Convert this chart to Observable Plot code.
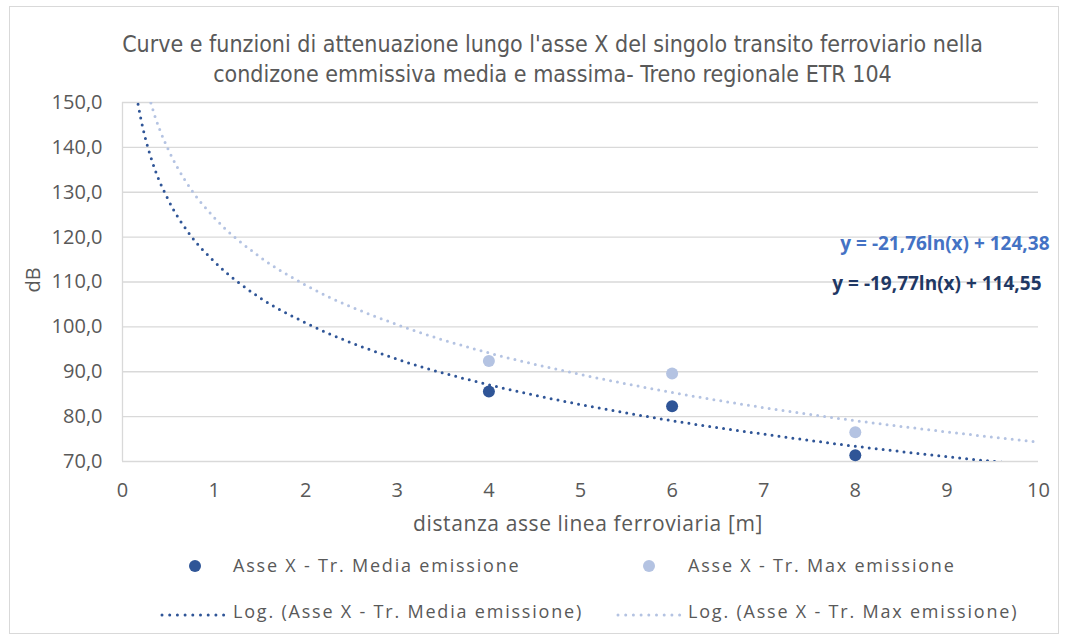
<!DOCTYPE html>
<html>
<head>
<meta charset="utf-8">
<script src="https://cdn.jsdelivr.net/npm/d3@7"></script>
<script src="https://cdn.jsdelivr.net/npm/@observablehq/plot@0.6"></script>
<style>
  html, body { margin: 0; padding: 0; background: #fff; }
  #wrap { position: relative; width: 1065px; height: 639px; overflow: hidden; font-family: "Open Sans", sans-serif; color: #595959; }
  #frame { position: absolute; left: 9px; top: 6px; width: 1050px; height: 628px; border: 1px solid #d9d9d9; box-sizing: border-box; }
  #title { position: absolute; left: 0; width: 1105px; top: 29px; text-align: center; font-family: "Liberation Sans Narrow", "DejaVu Sans Condensed", sans-serif; font-size: 23px; line-height: 30px; color: #595959; }
  #chart { position: absolute; left: 0; top: 0; }
  #ylab { position: absolute; left: 33px; top: 280px; transform: translate(-50%, -50%) rotate(-90deg); font-size: 20px; line-height: 20px; white-space: nowrap; }
  #xlab { position: absolute; left: 588px; top: 523px; transform: translate(-50%, -50%); font-size: 21px; letter-spacing: 0.6px; white-space: nowrap; }
  .leg { position: absolute; font-size: 18px; letter-spacing: 1.8px; white-space: nowrap; transform: translateY(-50%); }
  .sym { position: absolute; transform: translate(-50%, -50%); }
</style>
</head>
<body>
<div id="wrap">
  <div id="frame"></div>
  <div id="chart"></div>
  <div id="title"></div>
  <div id="ylab"></div>
  <div id="xlab"></div>
  <div id="legend"></div>
</div>
<script>
// ---- data ----
const titleLines = [
  "Curve e funzioni di attenuazione lungo l'asse X del singolo transito ferroviario nella",
  "condizone emmissiva media e massima- Treno regionale ETR 104"
];
const xLabel = "distanza asse linea ferroviaria [m]";
const yLabel = "dB";
const seriesNames = ["Asse X - Tr. Media emissione", "Asse X - Tr. Max emissione"];
const trendNames = ["Log. (Asse X - Tr. Media emissione)", "Log. (Asse X - Tr. Max emissione)"];
const equations = ["y = -21,76ln(x) + 124,38", "y = -19,77ln(x) + 114,55"];

const distances = [4, 6, 8];
const mediaValues = [85.6, 82.3, 71.4];
const maxValues = [92.4, 89.6, 76.5];

// trendline curves
const mediaTrendX = [0.17, 0.2, 0.25, 0.3, 0.35, 0.5, 0.75, 1, 1.5, 2, 3, 4, 5, 6, 7, 8, 9, 9.7];
const mediaTrendY = [149.6, 146.4, 142.0, 138.4, 135.3, 128.3, 120.2, 114.6, 106.5, 100.9, 92.8, 87.1, 82.7, 79.1, 76.1, 73.4, 71.1, 69.6];
const maxTrendX = [0.31, 0.35, 0.4, 0.5, 0.6, 0.75, 1, 1.5, 2, 3, 4, 5, 6, 7, 8, 9, 10];
const maxTrendY = [149.9, 147.2, 144.3, 139.5, 135.5, 130.6, 124.4, 115.6, 109.3, 100.5, 94.2, 89.4, 85.4, 82.0, 79.1, 76.6, 74.3];

const xTicks = [0, 1, 2, 3, 4, 5, 6, 7, 8, 9, 10];
const yTicks = [70, 80, 90, 100, 110, 120, 130, 140, 150];

const colors = { media: "#2f5597", max: "#b4c3e2", eqMax: "#4472c4", eqMedia: "#1f3864", grid: "#d9d9d9" };

// ---- build ----
const points = [
  ...distances.map((d, i) => ({ x: d, y: mediaValues[i], s: "media" })),
  ...distances.map((d, i) => ({ x: d, y: maxValues[i], s: "max" }))
];
const mediaTrend = mediaTrendX.map((x, i) => ({ x, y: mediaTrendY[i] }));
const maxTrend = maxTrendX.map((x, i) => ({ x, y: maxTrendY[i] }));
const fmt = d => d.toFixed(1).replace(".", ",");

const plot = Plot.plot({
  width: 1065,
  height: 639,
  marginLeft: 122,
  marginRight: 27,
  marginTop: 102,
  marginBottom: 178,
  style: { fontFamily: "Open Sans, sans-serif", fontSize: "18px", color: "#595959", background: "transparent", overflow: "visible" },
  x: { domain: [0, 10] },
  y: { domain: [70, 150] },
  marks: [
    Plot.gridY(yTicks, { stroke: colors.grid, strokeOpacity: 1, strokeWidth: 1.3 }),
    Plot.ruleX([0], { stroke: colors.grid, strokeWidth: 1.3 }),
    Plot.axisY(yTicks, { tickSize: 0, tickPadding: 20, tickFormat: fmt, label: null, fontSize: 20, fill: "#595959" }),
    Plot.axisX(xTicks, { tickSize: 0, tickPadding: 21, label: null, fontSize: 20, fill: "#595959" }),
    Plot.line(maxTrend, { x: "x", y: "y", curve: "monotone-x", stroke: colors.max, strokeWidth: 3, strokeDasharray: "0,7", strokeLinecap: "round", clip: true }),
    Plot.line(mediaTrend, { x: "x", y: "y", curve: "monotone-x", stroke: colors.media, strokeWidth: 3, strokeDasharray: "0,7", strokeLinecap: "round", clip: true }),
    Plot.dot(points, { x: "x", y: "y", r: 6, fill: d => d.s === "media" ? colors.media : colors.max, stroke: "none" }),
    Plot.text([equations[0]], { frameAnchor: "top-right", dx: 11, dy: 134, text: d => d, fill: colors.eqMax, fontWeight: "bold", fontSize: 19, textAnchor: "end" }),
    Plot.text([equations[1]], { frameAnchor: "top-right", dx: 3, dy: 174, text: d => d, fill: colors.eqMedia, fontWeight: "bold", fontSize: 19, textAnchor: "end" })
  ]
});
document.getElementById("chart").appendChild(plot);

document.getElementById("title").innerHTML = titleLines.join("<br>");
document.getElementById("ylab").textContent = yLabel;
document.getElementById("xlab").textContent = xLabel;

// legend
const legend = document.getElementById("legend");
function addSym(html, left, top) {
  const d = document.createElement("div");
  d.className = "sym"; d.style.left = left + "px"; d.style.top = top + "px";
  d.innerHTML = html; legend.appendChild(d);
}
function addText(t, left, top) {
  const d = document.createElement("div");
  d.className = "leg"; d.style.left = left + "px"; d.style.top = top + "px";
  d.textContent = t; legend.appendChild(d);
}
const dotSvg = c => `<svg width="14" height="14"><circle cx="7" cy="7" r="6" fill="${c}"/></svg>`;
const lineSvg = c => `<svg width="68" height="6"><line x1="3" y1="3" x2="65" y2="3" stroke="${c}" stroke-width="3" stroke-dasharray="0,7.7" stroke-linecap="round"/></svg>`;
addSym(dotSvg(colors.media), 195, 567);
addText(seriesNames[0], 233, 565);
addSym(dotSvg(colors.max), 649, 567);
addText(seriesNames[1], 688, 565);
addSym(lineSvg(colors.media), 193, 612);
addText(trendNames[0], 233, 611);
addSym(lineSvg(colors.max), 649, 612);
addText(trendNames[1], 688, 611);
</script>
</body>
</html>
